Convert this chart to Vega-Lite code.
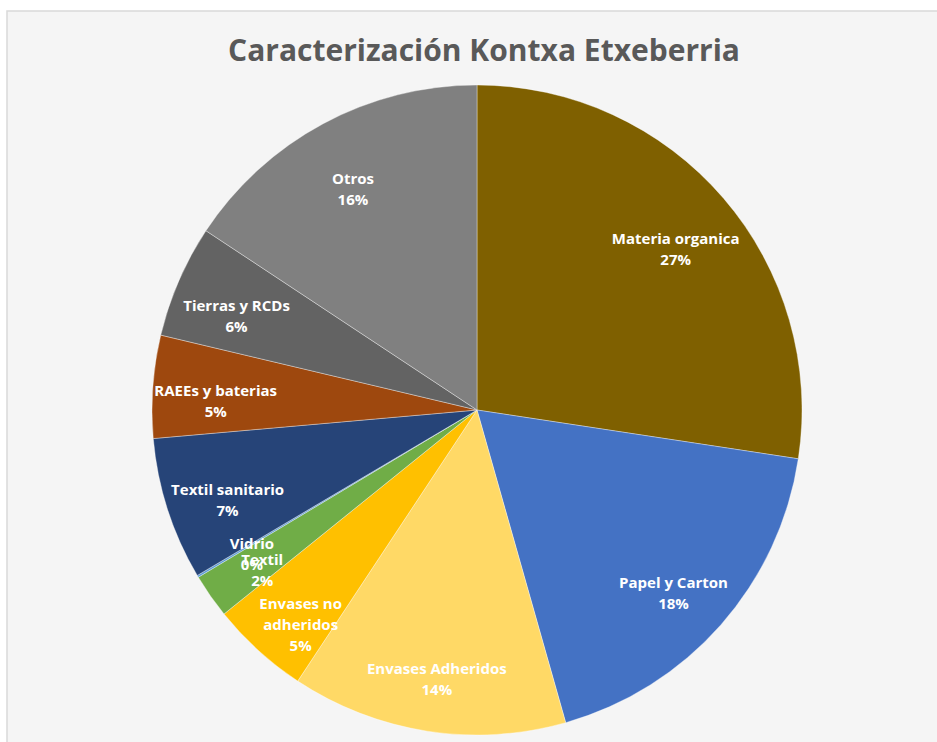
{
  "$schema": "https://vega.github.io/schema/vega-lite/v6.json",
  "autosize": "none",
  "width": 940,
  "height": 798,
  "padding": {"left": 7, "top": 11, "right": 0, "bottom": 0},
  "background": "#ffffff",
  "view": {"fill": "#f5f5f5", "stroke": "#d9d9d9", "strokeWidth": 1.5},
  "title": {
    "text": "Caracterización Kontxa Etxeberria",
    "font": "Open Sans",
    "fontSize": 30,
    "fontWeight": "bold",
    "color": "#595959",
    "anchor": "middle",
    "baseline": "top",
    "offset": 0,
    "dy": 56,
    "dx": 7
  },
  "data": {
    "values": [
      {"cat": "Materia organica", "v": 27.4, "o": 1, "label": "Materia organica\n27%"},
      {"cat": "Papel y Carton", "v": 18.2, "o": 2, "label": "Papel y Carton\n18%"},
      {"cat": "Envases Adheridos", "v": 13.7, "o": 3, "label": "Envases Adheridos\n14%"},
      {"cat": "Envases no adheridos", "v": 4.9, "o": 4, "label": "Envases no\nadheridos\n5%"},
      {"cat": "Textil", "v": 2.2, "o": 5, "label": "Textil\n2%"},
      {"cat": "Vidrio", "v": 0.1, "o": 6, "label": "Vidrio\n0%"},
      {"cat": "Textil sanitario", "v": 7.1, "o": 7, "label": "Textil sanitario\n7%"},
      {"cat": "RAEEs y baterias", "v": 5.1, "o": 8, "label": "RAEEs y baterias\n5%"},
      {"cat": "Tierras y RCDs", "v": 5.6, "o": 9, "label": "Tierras y RCDs\n6%"},
      {"cat": "Otros", "v": 15.7, "o": 10, "label": "Otros\n16%"}
    ]
  },
  "encoding": {
    "theta": {"field": "v", "type": "quantitative", "stack": true},
    "order": {"field": "o", "type": "quantitative"}
  },
  "layer": [
    {
      "mark": {"type": "arc", "outerRadius": 325, "stroke": "#ffffff", "strokeWidth": 0.6, "strokeOpacity": 0.6},
      "encoding": {
        "color": {
          "field": "cat",
          "type": "nominal",
          "legend": null,
          "scale": {
            "domain": ["Materia organica", "Papel y Carton", "Envases Adheridos", "Envases no adheridos", "Textil", "Vidrio", "Textil sanitario", "RAEEs y baterias", "Tierras y RCDs", "Otros"],
            "range": ["#7F6000", "#4472C4", "#FFD966", "#FFC000", "#70AD47", "#5B9BD5", "#264478", "#9E480E", "#636363", "#808080"]
          }
        }
      }
    },
    {
      "mark": {
        "type": "text",
        "radius": 262,
        "font": "Open Sans",
        "fontSize": 15,
        "fontWeight": "bold",
        "fill": "#ffffff",
        "lineBreak": "\n",
        "lineHeight": 21,
        "align": "center",
        "baseline": "middle"
      },
      "encoding": {
        "text": {"field": "label", "type": "nominal"}
      }
    }
  ]
}
